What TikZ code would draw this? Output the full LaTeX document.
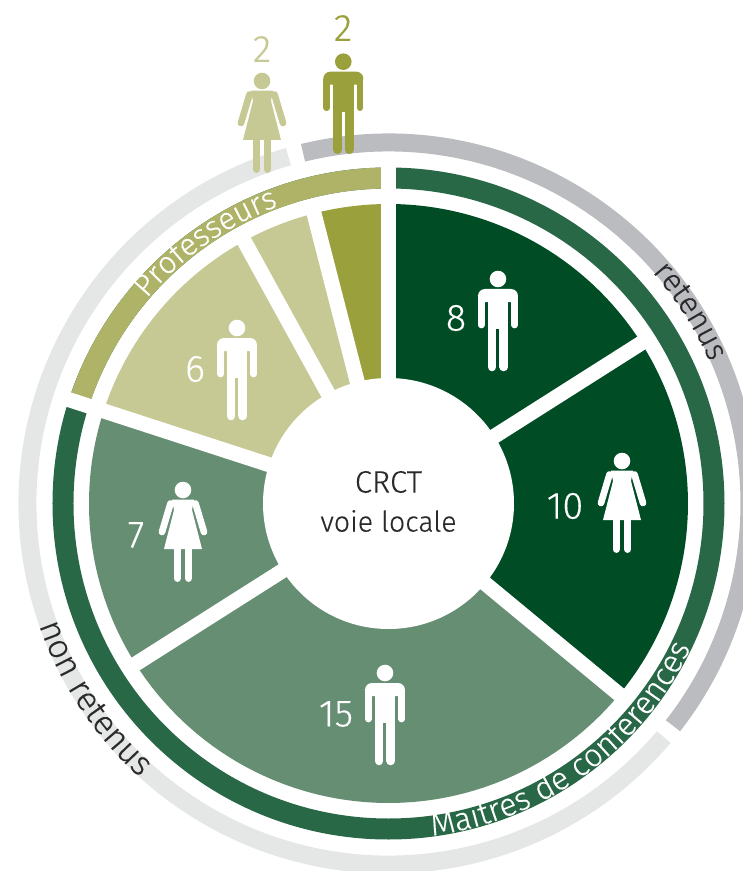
\documentclass[tikz,border=0pt]{standalone}
\usepackage{fontspec}
\setmainfont{Fira Sans Light}[FakeBold=0.25]
\usetikzlibrary{decorations.text}
\definecolor{cDark}{HTML}{004D25}
\definecolor{cMid}{HTML}{668E73}
\definecolor{cPale}{HTML}{C7C995}
\definecolor{cOlive}{HTML}{99A03C}
\definecolor{cRing}{HTML}{286846}
\definecolor{cRingOl}{HTML}{AEB368}
\definecolor{cGrey}{HTML}{BBBCBF}
\definecolor{cLight}{HTML}{E5E7E6}
\definecolor{cInk}{HTML}{2A2A2C}
\newcommand{\sector}[3]{\fill[#1] (0,0) -- (#2:299.5) arc[start angle=#2, end angle=#3, radius=299.5] -- cycle;}
\tikzset{
  x=1pt, y=1pt,
  num/.style={font=\fontsize{38}{38}\selectfont, inner sep=0pt, text=#1},
  num/.default=white,
  gapline/.style={white, line width=15pt},
  man/.pic={
    \fill[pic actions] (0,0) circle[radius=8.3];
    \fill[pic actions, rounded corners=7pt] (-20,-23) -- (-20,-10) -- (20,-10) -- (20,-23) -- cycle;
    \fill[pic actions] (-10.3,-10) rectangle (10.3,-50);
    \draw[pic actions, line width=6.7pt, line cap=round] (-16.65,-18) -- (-16.65,-46);
    \draw[pic actions, line width=6.7pt, line cap=round] (16.65,-18) -- (16.65,-46);
    \draw[pic actions, line width=8.8pt, line cap=round] (-5.9,-45) -- (-5.9,-87.9);
    \draw[pic actions, line width=8.8pt, line cap=round] (5.9,-45) -- (5.9,-87.9);
  },
  woman/.pic={
    \fill[pic actions] (0,0) circle[radius=8.3];
    \fill[pic actions] (-19,-59) -- (-9,-20) -- (-11,-9.7) -- (11,-9.7) -- (9,-20) -- (19,-59) -- cycle;
    \draw[pic actions, line width=6.7pt, line cap=round] (-12.5,-13.5) -- (-21,-42);
    \draw[pic actions, line width=6.7pt, line cap=round] (12.5,-13.5) -- (21,-42);
    \draw[pic actions, line width=7.3pt, line cap=round] (-5.7,-55) -- (-5.7,-88.3);
    \draw[pic actions, line width=7.3pt, line cap=round] (5.7,-55) -- (5.7,-88.3);
  },
}
\begin{document}
\begin{tikzpicture}
\clip (-388.5,-367.5) rectangle (354.5,503.5);
% outer arcs
\draw[cGrey, line width=18pt] (103.7:361) arc[start angle=103.7, end angle=-38, radius=361];
\draw[cLight, line width=18pt] (106.1:361) arc[start angle=106.1, end angle=319.7, radius=361];
% inner ring
\draw[cRing, line width=21pt] (0,0) circle[radius=325.5];
\draw[cRingOl, line width=21pt] (90:325.5) arc[start angle=90, end angle=162, radius=325.5];
% sectors
\sector{cDark}{90}{32.4}
\sector{cDark}{32.4}{-39.6}
\sector{cMid}{-39.6}{-147.6}
\sector{cMid}{212.4}{162}
\sector{cPale}{162}{118.8}
\sector{cPale}{118.8}{104.4}
\sector{cOlive}{104.4}{90}
% gaps
\draw[gapline] (0,0) -- (90:345);
\draw[gapline] (0,0) -- (162:345);
\draw[gapline] (0,0) -- (32.4:307);
\draw[gapline] (0,0) -- (-39.6:307);
\draw[gapline] (0,0) -- (212.4:307);
\draw[gapline] (0,0) -- (118.8:307);
\draw[gapline] (0,0) -- (104.4:307);
\fill[white] (0,0) circle[radius=125.5];
% curved labels
\path[decorate, decoration={text along path, text align=center,
  text={|\fontsize{31}{31}\selectfont\color{white}|Professeurs}}]
  (143:317) arc[start angle=143, end angle=107, radius=317];
\path[decorate, decoration={text along path, text align=center,
  text={|\fontsize{32}{32}\selectfont\color{white}|Maîtres de conférences}}]
  (-84:335) arc[start angle=-84, end angle=-24, radius=335];
\path[decorate, decoration={text along path, text align=center,
  text={|\fontsize{31.5}{31.5}\selectfont\color{cInk}|retenus}}]
  (43:351) arc[start angle=43, end angle=22, radius=351];
\path[decorate, decoration={text along path, text align=center,
  text={|\fontsize{34}{34}\selectfont\color{cInk}|non retenus}}]
  (198:370) arc[start angle=198, end angle=229, radius=370];
% centre text
\node[font=\fontsize{31}{31}\selectfont, text=cInk, inner sep=0pt] (crct) at (0,21.5) {CRCT};
\node[font=\fontsize{28.5}{28.5}\selectfont, text=cInk, inner sep=0pt] (voie) at (0,-17.5) {voie locale};
% numbers
\node[num=cPale] (n1) at (-126.5,454.5) {2};
\node[num=cOlive] (n2) at (-45.5,475.5) {2};
\node[num] (n3) at (67.5,185.5) {8};
\node[num] (n4) at (176.5,-2.5) {10};
\node[num] (n5) at (-52.5,-210.5) {15};
\node[num] (n6) at (-252.5,-31.5) {7};
\node[num] (n7) at (-193.5,134.5) {6};
% people
\pic[color=cOlive, fill=cOlive] at (-45.2,441.8) {man};
\pic[color=cPale, fill=cPale] at (-126.5,422.5) {woman};
\pic[color=white, fill=white] at (109.5,224.5) {man};
\pic[color=white, fill=white] at (233.5,42.5) {woman};
\pic[color=white, fill=white] at (-3.5,-169.5) {man};
\pic[color=white, fill=white] at (-205.5,13.5) {woman};
\pic[color=white, fill=white] at (-151.5,175.5) {man};
\end{tikzpicture}
\end{document}
